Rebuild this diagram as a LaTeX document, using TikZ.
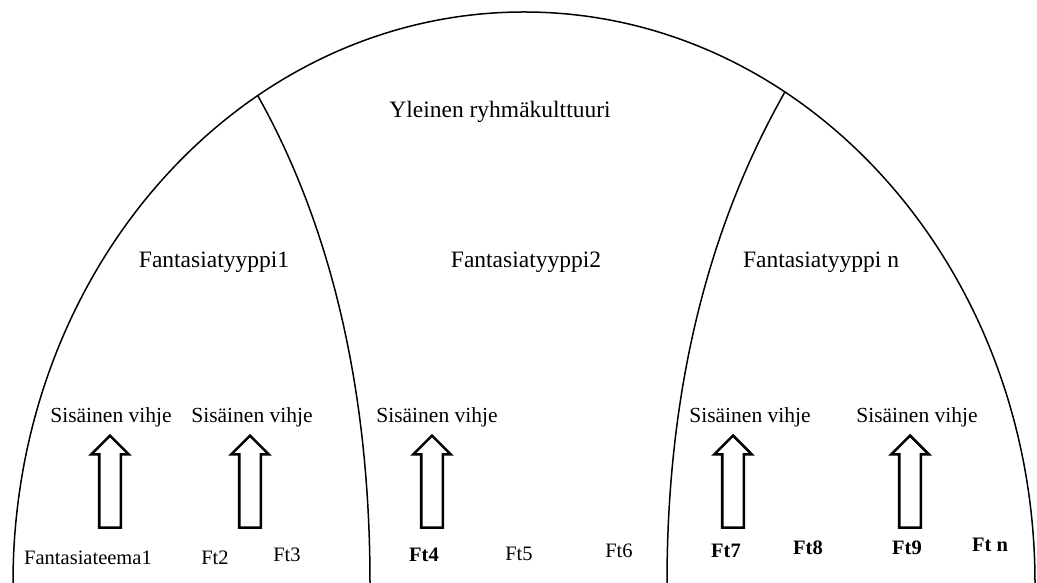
\documentclass[tikz,border=0pt]{standalone}
\usepackage{fontspec}
\setmainfont{Liberation Serif}
\usetikzlibrary{shapes.arrows}

\begin{document}
\begin{tikzpicture}[x=1pt,y=1pt,
  dome/.style={line width=1.5pt},
  bigtitle/.style={anchor=base,inner sep=0pt,font=\fontsize{23.5}{26}\selectfont},
  cuetext/.style={anchor=base,inner sep=0pt,font=\fontsize{21.5}{24}\selectfont},
  themetext/.style={anchor=base,inner sep=0pt,font=\fontsize{20.5}{23}\selectfont},
  themebold/.style={themetext,font=\fontsize{20.5}{23}\selectfont\bfseries},
  cuearrow/.style={single arrow,draw,line width=2.6pt,rotate=90,
    inner xsep=0pt,inner ysep=9.5pt,single arrow head extend=8pt,
    single arrow tip angle=90,minimum height=92pt}]
\useasboundingbox (0,0) rectangle (1037,583);

% outer dome: group culture
\coordinate (c) at (524,0);
\draw[dome] (13,0) arc[start angle=180,end angle=0,x radius=511,y radius=571];
\coordinate (jl) at ([shift={(c)}]121.4:511 and 571);
\coordinate (jr) at ([shift={(c)}]59.3:511 and 571);
\coordinate (bl) at (370,0);
\coordinate (br) at (667,0);

% inner boundaries between fantasy types
\draw[dome] (jl) .. controls (332.7,353.7) and (370,188.7) .. (bl);
\draw[dome] (jr) .. controls (706.3,352.3) and (667,188.7) .. (br);

% titles
\node[bigtitle] (culture) at (500,465) {Yleinen ryhmäkulttuuri};
\node[bigtitle] (type1) at (214,315) {Fantasiatyyppi1};
\node[bigtitle] (type2) at (526,315) {Fantasiatyyppi2};
\node[bigtitle] (typen) at (821,315) {Fantasiatyyppi n};

% internal cues
\node[cuetext] (cue1) at (111,160) {Sisäinen vihje};
\node[cuetext] (cue2) at (252,160) {Sisäinen vihje};
\node[cuetext] (cue3) at (437,160) {Sisäinen vihje};
\node[cuetext] (cue4) at (750,160) {Sisäinen vihje};
\node[cuetext] (cue5) at (917,160) {Sisäinen vihje};

% hollow arrows pointing up to the cues
\node[cuearrow] (ar1) at (110,96) {};
\node[cuearrow] (ar2) at (250,96) {};
\node[cuearrow] (ar3) at (432,96) {};
\node[cuearrow] (ar4) at (733,96) {};
\node[cuearrow] (ar5) at (910,96) {};

% fantasy themes
\node[themetext] (ft1) at (88,18) {Fantasiateema1};
\node[themetext] (ft2) at (215,18) {Ft2};
\node[themetext] (ft3) at (287,21) {Ft3};
\node[themebold] (ft4) at (424,21) {Ft4};
\node[themetext] (ft5) at (519,22) {Ft5};
\node[themetext] (ft6) at (619,25) {Ft6};
\node[themebold] (ft7) at (726,25) {Ft7};
\node[themebold] (ft8) at (808,28) {Ft8};
\node[themebold] (ft9) at (907,28) {Ft9};
\node[themebold] (ftn) at (990,31) {Ft n};
\end{tikzpicture}
\end{document}
